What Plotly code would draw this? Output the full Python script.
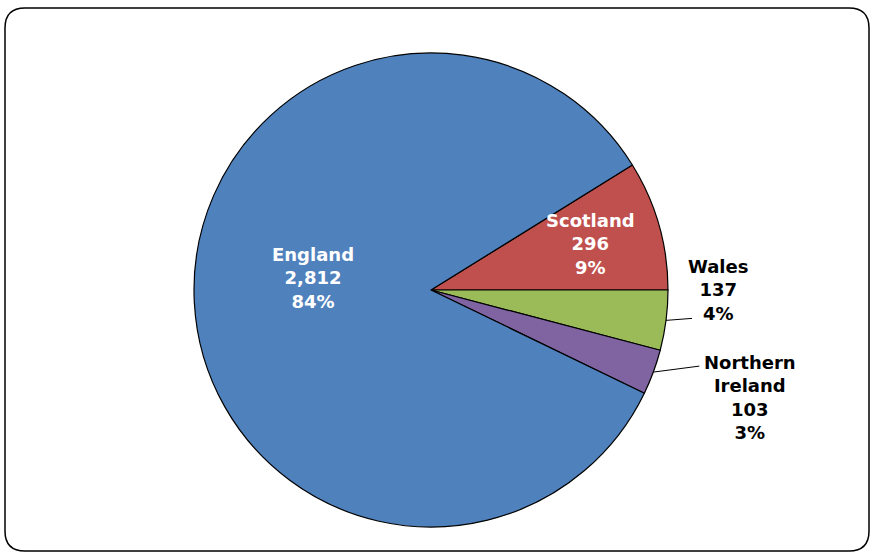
import math
import plotly.graph_objects as go

# Data
regions = ["Scotland", "Wales", "Northern Ireland", "England"]
values = [296, 137, 103, 2812]
colors = ["#C0504D", "#9BBB59", "#8064A2", "#4F81BD"]
label_lines = ["Scotland", "Wales", "Northern<br>Ireland", "England"]

W, H = 872, 553
CX, CY, R = 431, 290, 237  # pie geometry in pixels

total = sum(values)
rotation = 90 - 360 * values[0] / total  # first slice ends at 3 o'clock

fig = go.Figure(go.Pie(
    labels=regions, values=values, sort=False, direction="clockwise",
    rotation=rotation,
    marker=dict(colors=colors, line=dict(color="black", width=1.2)),
    textinfo="none", hoverinfo="label+value+percent",
    domain=dict(x=[(CX - R) / W, (CX + R) / W], y=[(H - CY - R) / H, (H - CY + R) / H]),
    showlegend=False,
))

def px2paper(x, y):
    return x / W, 1 - y / H

settings = {
    "Scotland": dict(r=0.71, dx=-2, dy=0, inside=True),
    "Wales": dict(r=None, pos=(718, 290), inside=False, lead=(26, -2)),
    "Northern Ireland": dict(r=None, pos=(750, 397), inside=False, lead=(46, -6)),
    "England": dict(r=0.5, dx=0, dy=-18, inside=True),
}

shapes = []
annotations = []
cum = 0
for name, val, lab in zip(regions, values, label_lines):
    mid = rotation + 360 * (cum + val / 2) / total  # clockwise from 12 o'clock
    cum += val
    a = math.radians(mid)
    s = settings[name]
    pct = round(100 * val / total)
    text = f"<b>{lab}<br>{val:,}<br>{pct}%</b>"
    if s["inside"]:
        x = CX + s["r"] * R * math.sin(a) + s["dx"]
        y = CY - s["r"] * R * math.cos(a) + s["dy"]
        color = "white"
    else:
        x, y = s["pos"]
        color = "black"
        ex = CX + R * math.sin(a)
        ey = CY - R * math.cos(a)
        x0, y0 = px2paper(ex, ey)
        x1, y1 = px2paper(ex + s["lead"][0], ey + s["lead"][1])
        shapes.append(dict(type="line", xref="paper", yref="paper",
                           x0=x0, y0=y0, x1=x1, y1=y1,
                           line=dict(color="black", width=1)))
    xp, yp = px2paper(x, y)
    annotations.append(dict(x=xp, y=yp, xref="paper", yref="paper", text=text,
                            showarrow=False, xanchor="center", yanchor="middle",
                            align="center",
                            font=dict(family="DejaVu Sans", size=18, color=color)))

# rounded border
x0, y0, x1, y1, rr = 5, 8, 869, 551, 20
def P(x, y):
    return f"{x / W:.5f},{1 - y / H:.5f}"
path = (f"M {P(x0 + rr, y0)} L {P(x1 - rr, y0)} Q {P(x1, y0)} {P(x1, y0 + rr)} "
        f"L {P(x1, y1 - rr)} Q {P(x1, y1)} {P(x1 - rr, y1)} "
        f"L {P(x0 + rr, y1)} Q {P(x0, y1)} {P(x0, y1 - rr)} "
        f"L {P(x0, y0 + rr)} Q {P(x0, y0)} {P(x0 + rr, y0)} Z")
shapes.append(dict(type="path", xref="paper", yref="paper", path=path,
                   line=dict(color="black", width=1.5)))

fig.update_layout(
    width=W, height=H, margin=dict(l=0, r=0, t=0, b=0),
    paper_bgcolor="white", plot_bgcolor="white",
    shapes=shapes, annotations=annotations,
)
fig.write_html("out.html")
